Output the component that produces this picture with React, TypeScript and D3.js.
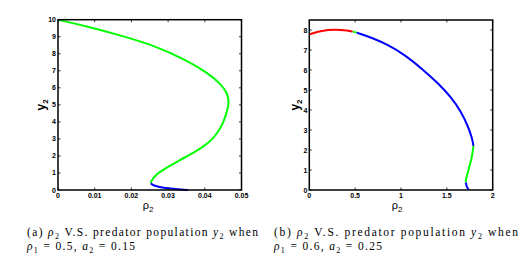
import React from "react";
import * as d3 from "d3";

// Left panel (a)
const aGreenX = [0, 0.00826, 0.01735, 0.0264, 0.0345, 0.041, 0.0446, 0.0461, 0.0466, 0.0463, 0.0452, 0.0435, 0.041, 0.0375, 0.0332, 0.0292, 0.0265, 0.0254, 0.0253];
const aGreenY = [10, 9.59, 9.06, 8.47, 7.67, 6.85, 6.17, 5.7, 5.2, 4.8, 4.01, 3.33, 2.74, 2.25, 1.76, 1.27, 0.88, 0.53, 0.39];
const aBlueX = [0.0253, 0.026, 0.0292, 0.0328, 0.0355];
const aBlueY = [0.39, 0.25, 0.1, 0.04, 0.0];
const aXTicks = [0, 0.01, 0.02, 0.03, 0.04, 0.05];
const aXTickLabels = ["0", "0.01", "0.02", "0.03", "0.04", "0.05"];
const aYTicks = [0, 1, 2, 3, 4, 5, 6, 7, 8, 9, 10];

// Right panel (b)
const bRedX = [0, 0.135, 0.28, 0.425, 0.473];
const bRedY = [7.78, 7.97, 8.03, 7.97, 7.92];
const bGreen1X = [0.473, 0.517];
const bGreen1Y = [7.92, 7.87];
const bBlue1X = [0.517, 0.68, 0.862, 1.044, 1.225, 1.407, 1.553, 1.65, 1.73, 1.775, 1.79];
const bBlue1Y = [7.87, 7.62, 7.25, 6.75, 6.08, 5.33, 4.6, 3.95, 3.2, 2.6, 2.2];
const bGreen2X = [1.79, 1.772, 1.735, 1.706, 1.706];
const bGreen2Y = [2.2, 1.58, 1.0, 0.5, 0.37];
const bBlue2X = [1.706, 1.71, 1.717, 1.742];
const bBlue2Y = [0.37, 0.33, 0.13, 0.0];
const bXTicks = [0, 0.5, 1, 1.5, 2];
const bXTickLabels = ["0", "0.5", "1", "1.5", "2"];
const bYTicks = [0, 1, 2, 3, 4, 5, 6, 7, 8];

type Seg = { xs: number[]; ys: number[]; color: string };

function Panel(props: {
  left: number; right: number; top: number; bottom: number;
  xDomain: [number, number]; yDomain: [number, number];
  xTicks: number[]; xTickLabels: string[]; yTicks: number[];
  segs: Seg[]; yLabelX: number; xLabelX: number;
}) {
  const { left, right, top, bottom } = props;
  const x = d3.scaleLinear().domain(props.xDomain).range([left, right]);
  const y = d3.scaleLinear().domain(props.yDomain).range([bottom, top]);
  const line = d3.line<[number, number]>().x(d => x(d[0])).y(d => y(d[1])).curve(d3.curveBasis);
  const tl = 2.5;
  const tickFont = { fontFamily: "Liberation Sans, Arial, sans-serif", fontSize: 7, fontWeight: "bold" as const, fill: "#000" };
  return (
    <g>
      {props.segs.map((s, i) => (
        <path key={i} d={line(s.xs.map((v, j) => [v, s.ys[j]]) as [number, number][]) || ""} fill="none" stroke={s.color} strokeWidth={2} />
      ))}
      {props.xTicks.map((t, i) => (
        <g key={"x" + i}>
          <line x1={x(t)} x2={x(t)} y1={bottom} y2={bottom - tl} stroke="#000" strokeWidth={0.8} />
          <line x1={x(t)} x2={x(t)} y1={top} y2={top + tl} stroke="#000" strokeWidth={0.8} />
          <text x={x(t)} y={bottom + 8} textAnchor="middle" {...tickFont}>{props.xTickLabels[i]}</text>
        </g>
      ))}
      {props.yTicks.map((t, i) => (
        <g key={"y" + i}>
          <line x1={left} x2={left + tl} y1={y(t)} y2={y(t)} stroke="#000" strokeWidth={0.8} />
          <line x1={right} x2={right - tl} y1={y(t)} y2={y(t)} stroke="#000" strokeWidth={0.8} />
          <text x={left - 2} y={y(t) + 2.5} textAnchor="end" {...tickFont}>{String(t)}</text>
        </g>
      ))}
      <rect x={left} y={top} width={right - left} height={bottom - top} fill="none" stroke="#000" strokeWidth={1.5} />
      <text transform={`translate(${props.yLabelX},${(top + bottom) / 2}) rotate(-90)`} textAnchor="middle"
        fontFamily="Liberation Sans, Arial, sans-serif" fontSize={12} fontWeight="bold">
        y<tspan fontSize={8} dy={3}>2</tspan>
      </text>
      <text x={props.xLabelX} y={bottom + 19} textAnchor="middle"
        fontFamily="Liberation Sans, Arial, sans-serif" fontSize={11}>
        ρ<tspan fontSize={8} dy={3}>2</tspan>
      </text>
    </g>
  );
}

function Caption(props: { x: number; tag: string; rho1: string; a2: string; w1: number; w2: number }) {
  const f = { fontFamily: "Liberation Serif, Times New Roman, serif", fontSize: 11.5, fill: "#000" };
  return (
    <g>
      <text x={props.x} y={236} {...f} textLength={props.w1} lengthAdjust="spacing">
        {props.tag} <tspan fontStyle="italic">ρ</tspan><tspan fontSize={8} dy={2.5}>2</tspan>
        <tspan dy={-2.5}> V.S. predator population </tspan><tspan fontStyle="italic">y</tspan>
        <tspan fontSize={8} dy={2.5}>2</tspan><tspan dy={-2.5}> when</tspan>
      </text>
      <text x={props.x} y={250} {...f} textLength={props.w2} lengthAdjust="spacing">
        <tspan fontStyle="italic">ρ</tspan><tspan fontSize={8} dy={2.5}>1</tspan>
        <tspan dy={-2.5}> = {props.rho1}, </tspan><tspan fontStyle="italic">a</tspan>
        <tspan fontSize={8} dy={2.5}>2</tspan><tspan dy={-2.5}> = {props.a2}</tspan>
      </text>
    </g>
  );
}

export default function App() {
  return (
    <svg width={531} height={261} style={{ position: "absolute", left: 0, top: 0, background: "#fff" }}>
      <rect width={531} height={261} fill="#fff" />
      <Panel left={58} right={241.5} top={19.7} bottom={190} xDomain={[0, 0.05]} yDomain={[0, 10]}
        xTicks={aXTicks} xTickLabels={aXTickLabels} yTicks={aYTicks}
        segs={[{ xs: aGreenX, ys: aGreenY, color: "#00ff00" }, { xs: aBlueX, ys: aBlueY, color: "#0000ff" }]}
        yLabelX={45} xLabelX={148} />
      <Panel left={309.3} right={492.7} top={20} bottom={190} xDomain={[0, 2]} yDomain={[0, 8.5]}
        xTicks={bXTicks} xTickLabels={bXTickLabels} yTicks={bYTicks}
        segs={[
          { xs: bRedX, ys: bRedY, color: "#ff0000" },
          { xs: bGreen1X, ys: bGreen1Y, color: "#00ff00" },
          { xs: bBlue1X, ys: bBlue1Y, color: "#0000ff" },
          { xs: bGreen2X, ys: bGreen2Y, color: "#00ff00" },
          { xs: bBlue2X, ys: bBlue2Y, color: "#0000ff" },
        ]}
        yLabelX={299} xLabelX={397} />
      <Caption x={27} tag="(a)" rho1="0.5" a2="0.15" w1={231} w2={108} />
      <Caption x={274} tag="(b)" rho1="0.6" a2="0.25" w1={244} w2={108} />
    </svg>
  );
}
